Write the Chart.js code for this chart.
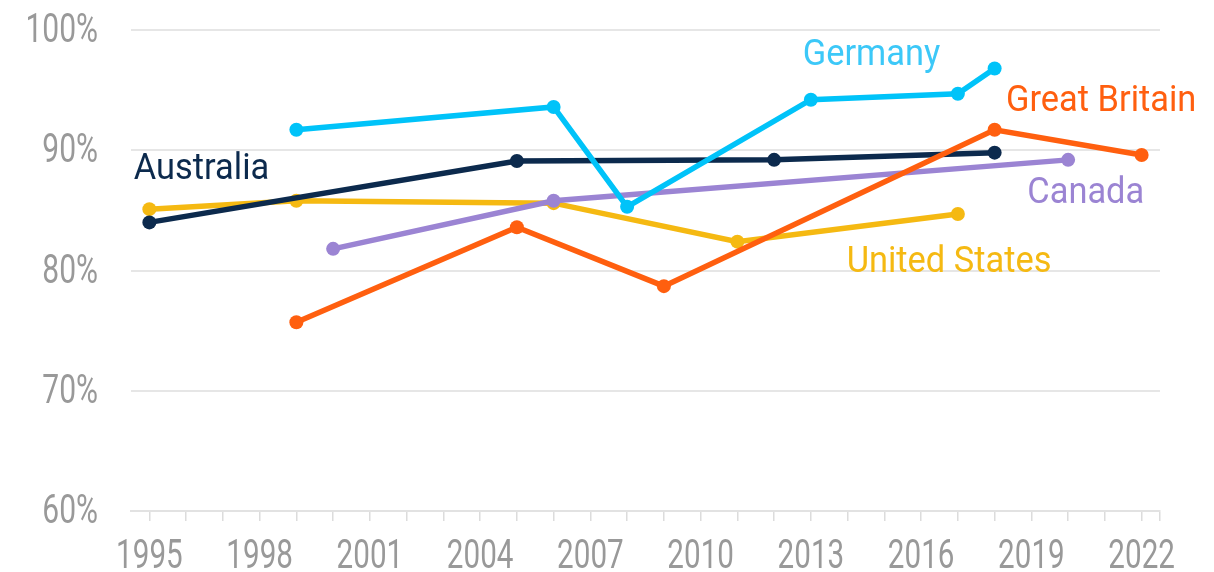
<!DOCTYPE html>
<html>
<head>
<meta charset="utf-8">
<script src="https://cdn.jsdelivr.net/npm/chart.js@4"></script>
<style>
  html, body { margin: 0; padding: 0; background: #fff; }
  #wrap { width: 1214px; height: 572px; }
</style>
</head>
<body>
<div id="wrap"><canvas id="chart"></canvas></div>
<script>
// data
const australiaYears = [1995, 2005, 2012, 2018];
const australiaValues = [84.0, 89.1, 89.2, 89.8];

const usYears = [1995, 1999, 2006, 2011, 2017];
const usValues = [85.1, 85.8, 85.6, 82.4, 84.7];

const germanyYears = [1999, 2006, 2008, 2013, 2017, 2018];
const germanyValues = [91.7, 93.6, 85.3, 94.2, 94.7, 96.8];

const britainYears = [1999, 2005, 2009, 2018, 2022];
const britainValues = [75.7, 83.6, 78.7, 91.7, 89.6];

const canadaYears = [2000, 2006, 2020];
const canadaValues = [81.8, 85.8, 89.2];

const yTicks = [60, 70, 80, 90, 100];
const xFirstYear = 1995;
const xLastYear = 2022;
const xLabelEvery = 3;

const FONT = "Roboto, 'Noto Sans', sans-serif";
const TICK_COLOR = '#999999';

function toPoints(years, values) {
    return years.map((year, i) => ({ x: year, y: values[i] }));
}

function series(label, years, values, color, order) {
    return {
        label: label,
        data: toPoints(years, values),
        borderColor: color,
        backgroundColor: color,
        borderWidth: 5.5,
        pointRadius: 7,
        pointHoverRadius: 7,
        pointBorderWidth: 0,
        tension: 0,
        order: order
    };
}

// series names written next to the lines (center x, baseline y, in data units)
const seriesLabels = [
    { text: 'Australia', x: 1996.42, y: 87.6, color: '#0c2a4d' },
    { text: 'Germany', x: 2014.65, y: 97.1, color: '#3cc8f8' },
    { text: 'Great Britain', x: 2020.9, y: 93.25, color: '#ff5f0f' },
    { text: 'Canada', x: 2020.48, y: 85.6, color: '#9b84d3' },
    { text: 'United States', x: 2016.76, y: 79.85, color: '#f5b912' }
];

// the reference font is condensed, so squeeze the text horizontally
function squeezedText(ctx, text, x, y, sx) {
    ctx.save();
    ctx.translate(x, y);
    ctx.scale(sx, 1);
    ctx.fillText(text, 0, 0);
    ctx.restore();
}

const textPlugin = {
    id: 'texts',
    afterDraw(chart) {
        const ctx = chart.ctx;
        const xs = chart.scales.x;
        const ys = chart.scales.y;
        ctx.save();
        ctx.textBaseline = 'alphabetic';

        // y tick labels
        ctx.font = '40px ' + FONT;
        ctx.fillStyle = TICK_COLOR;
        ctx.textAlign = 'right';
        yTicks.forEach(v => {
            squeezedText(ctx, v + '%', 98, ys.getPixelForValue(v) + 12, 0.75);
        });

        // x tick labels
        ctx.textAlign = 'center';
        for (let year = xFirstYear; year <= xLastYear; year += xLabelEvery) {
            squeezedText(ctx, String(year), xs.getPixelForValue(year), 568, 0.74);
        }

        // series names
        ctx.font = '37px ' + FONT;
        seriesLabels.forEach(l => {
            ctx.fillStyle = l.color;
            squeezedText(ctx, l.text, xs.getPixelForValue(l.x), ys.getPixelForValue(l.y), 0.93);
        });
        ctx.restore();
    }
};

new Chart(document.getElementById('chart'), {
    type: 'line',
    data: {
        datasets: [
            series('Germany', germanyYears, germanyValues, '#00c3f9', 1),
            series('Great Britain', britainYears, britainValues, '#ff5f0f', 2),
            series('Canada', canadaYears, canadaValues, '#9b84d3', 3),
            series('Australia', australiaYears, australiaValues, '#0c2a4d', 4),
            series('United States', usYears, usValues, '#f5b912', 5)
        ]
    },
    options: {
        responsive: true,
        maintainAspectRatio: false,
        animation: false,
        layout: {
            padding: { top: 30, right: 54, bottom: 0, left: 0 }
        },
        plugins: {
            legend: { display: false },
            tooltip: { enabled: false }
        },
        scales: {
            x: {
                type: 'linear',
                min: xFirstYear - 0.5,
                max: xLastYear + 0.5,
                afterFit: function(scale) { scale.height = 61; },
                afterBuildTicks: function(scale) {
                    const ticks = [];
                    for (let year = xFirstYear; year <= xLastYear; year++) {
                        ticks.push({ value: year });
                    }
                    ticks.push({ value: xLastYear + 0.5 });
                    scale.ticks = ticks;
                },
                border: { color: '#e2e2e2', width: 2 },
                grid: {
                    drawOnChartArea: false,
                    drawTicks: true,
                    tickLength: 10,
                    tickColor: '#dcdcdc',
                    lineWidth: 1.5
                },
                ticks: { display: false }
            },
            y: {
                min: 60,
                max: 100,
                afterFit: function(scale) { scale.width = 131; },
                afterBuildTicks: function(scale) {
                    scale.ticks = yTicks.map(v => ({ value: v }));
                },
                border: { display: false },
                grid: {
                    color: '#e6e6e6',
                    lineWidth: 2,
                    drawTicks: false
                },
                ticks: { display: false }
            }
        }
    },
    plugins: [textPlugin]
});
</script>
</body>
</html>
